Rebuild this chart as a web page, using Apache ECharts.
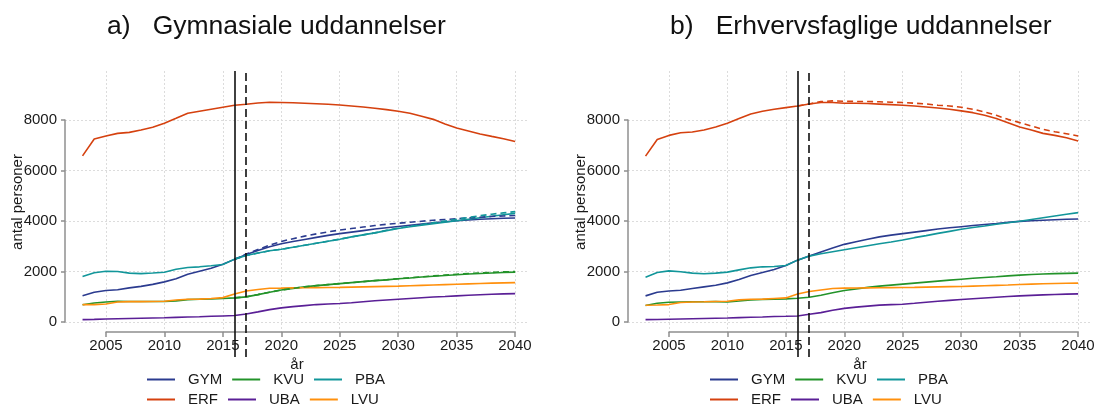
<!DOCTYPE html>
<html>
<head>
<meta charset="utf-8">
<script src="https://cdn.jsdelivr.net/npm/echarts@6/dist/echarts.min.js"></script>
<style>
html, body { margin: 0; padding: 0; background: #fff; }
#main { width: 1098px; height: 405px; }
</style>
</head>
<body>
<div id="main"></div>
<script>
// years on the x axis
var years = [2003, 2004, 2005, 2006, 2007, 2008, 2009, 2010, 2011, 2012, 2013, 2014, 2015, 2016, 2017, 2018, 2019, 2020, 2021,
    2022, 2023, 2024, 2025, 2026, 2027, 2028, 2029, 2030, 2031, 2032, 2033, 2034, 2035, 2036, 2037, 2038, 2039, 2040];
var altYears = [2016, 2017, 2018, 2019, 2020, 2021, 2022, 2023, 2024, 2025, 2026, 2027, 2028, 2029, 2030, 2031, 2032,
    2033, 2034, 2035, 2036, 2037, 2038, 2039, 2040];
var xTicks = [2005, 2010, 2015, 2020, 2025, 2030, 2035, 2040];
var yTicks = [0, 2000, 4000, 6000, 8000];
var names = ["GYM", "ERF", "KVU", "UBA", "PBA", "LVU"];

// a) Gymnasiale uddannelser
var gymA = [1040, 1180, 1250, 1280, 1350, 1410, 1490, 1590, 1710, 1890, 2010, 2130, 2290, 2480, 2670, 2830, 2980, 3100, 3190,
    3270, 3350, 3430, 3500, 3560, 3620, 3680, 3730, 3780, 3830, 3880, 3930, 3970, 4010, 4040, 4070, 4090, 4110, 4120];
var erfA = [6580, 7245, 7365, 7470, 7510, 7600, 7710, 7870, 8065, 8265, 8345, 8425, 8505, 8585, 8625, 8675, 8700, 8690, 8680,
    8665, 8645, 8625, 8595, 8555, 8515, 8465, 8410, 8345, 8265, 8145, 8025, 7840, 7680, 7565, 7445, 7350, 7260, 7150];
var kvuA = [680, 755, 790, 820, 810, 810, 810, 810, 835, 885, 900, 915, 930, 955, 995, 1085, 1180, 1270, 1330,
    1390, 1440, 1480, 1520, 1560, 1600, 1640, 1670, 1710, 1740, 1780, 1810, 1840, 1870, 1900, 1920, 1940, 1960, 1975];
var ubaA = [95, 105, 120, 130, 140, 150, 160, 170, 185, 200, 210, 225, 240, 255, 320, 400, 490, 560, 610,
    650, 690, 710, 730, 760, 800, 840, 870, 900, 930, 960, 990, 1010, 1035, 1060, 1080, 1100, 1115, 1125];
var pbaA = [1800, 1950, 2010, 2000, 1935, 1915, 1940, 1970, 2090, 2160, 2185, 2225, 2275, 2490, 2630, 2730, 2820, 2880, 2960,
    3040, 3120, 3200, 3280, 3370, 3450, 3530, 3620, 3700, 3770, 3830, 3890, 3950, 4010, 4070, 4130, 4190, 4250, 4300];
var lvuA = [690, 690, 710, 790, 805, 805, 810, 820, 870, 900, 905, 930, 965, 1110, 1230, 1285, 1335, 1340, 1350,
    1355, 1360, 1365, 1370, 1380, 1390, 1400, 1410, 1420, 1435, 1450, 1465, 1480, 1495, 1510, 1525, 1540, 1550, 1560];
// alternative projection (dashed), from 2016
var gymAltA = [2480, 2690, 2870, 3040, 3190, 3300, 3400, 3490, 3570, 3640, 3700, 3760, 3820, 3870, 3910, 3950, 3990,
    4030, 4060, 4090, 4120, 4150, 4180, 4200, 4220];
var pbaAltA = [2490, 2630, 2730, 2820, 2880, 2960, 3040, 3120, 3200, 3280, 3370, 3450, 3530, 3630, 3720, 3790, 3860,
    3930, 4000, 4070, 4140, 4210, 4270, 4320, 4370];
var kvuAltA = [955, 995, 1085, 1180, 1270, 1330, 1390, 1440, 1480, 1520, 1560, 1600, 1640, 1675, 1715, 1750, 1790,
    1825, 1860, 1890, 1920, 1945, 1965, 1985, 2000];

// b) Erhvervsfaglige uddannelser
var gymB = [1035, 1180, 1230, 1260, 1325, 1390, 1455, 1550, 1685, 1840, 1960, 2080, 2240, 2450, 2610, 2770, 2930, 3075, 3180,
    3280, 3370, 3440, 3500, 3560, 3620, 3680, 3730, 3775, 3820, 3860, 3900, 3945, 3985, 4010, 4030, 4050, 4070, 4080];
var erfB = [6570, 7230, 7390, 7495, 7525, 7605, 7720, 7870, 8055, 8240, 8345, 8425, 8490, 8555, 8635, 8690, 8690, 8665, 8660,
    8650, 8630, 8610, 8585, 8555, 8515, 8475, 8425, 8360, 8290, 8185, 8055, 7895, 7720, 7605, 7470, 7390, 7300, 7165];
var kvuB = [650, 740, 780, 790, 800, 800, 805, 795, 830, 875, 890, 900, 915, 940, 980, 1060, 1155, 1245, 1310,
    1370, 1420, 1460, 1500, 1540, 1580, 1620, 1660, 1695, 1730, 1760, 1790, 1825, 1855, 1880, 1900, 1915, 1925, 1935];
var ubaB = [93, 100, 110, 120, 130, 140, 150, 160, 175, 190, 200, 215, 225, 240, 305, 370, 465, 540, 590,
    630, 670, 690, 705, 740, 780, 820, 855, 890, 920, 950, 980, 1010, 1035, 1055, 1075, 1090, 1105, 1115];
var pbaB = [1775, 1960, 2025, 1990, 1935, 1910, 1935, 1975, 2065, 2145, 2185, 2200, 2240, 2450, 2610, 2700, 2780, 2860, 2940,
    3020, 3100, 3170, 3250, 3340, 3420, 3510, 3590, 3670, 3740, 3800, 3870, 3930, 3990, 4060, 4130, 4200, 4270, 4330];
var lvuB = [665, 675, 690, 770, 795, 800, 810, 820, 875, 900, 905, 930, 955, 1110, 1205, 1270, 1325, 1340, 1345,
    1350, 1355, 1360, 1365, 1370, 1380, 1390, 1400, 1405, 1420, 1435, 1450, 1465, 1485, 1500, 1515, 1525, 1535, 1540];
var erfAltB = [8555, 8635, 8730, 8755, 8740, 8735, 8730, 8720, 8705, 8690, 8665, 8635, 8585, 8555, 8505, 8425, 8320,
    8185, 8025, 7895, 7760, 7630, 7535, 7455, 7365];

var colors = {GYM: "#2b3b8f", ERF: "#d5410f", KVU: "#23932a", UBA: "#5a1f96", PBA: "#12969a", LVU: "#ff900d"};
var font = "'Liberation Sans', Arial, sans-serif";
var gridColor = "#dcdcdc";
var axisColor = "#8f8f8f";

function pairs(xs, ys) {
    var out = [];
    for (var i = 0; i < xs.length; i++) out.push([xs[i], ys[i]]);
    return out;
}

// plain numbers, no thousands separator
function plain(v) {
    return String(v);
}

var option = {
    animation: false,
    textStyle: {fontFamily: font},
    title: [],
    grid: [],
    xAxis: [],
    yAxis: [],
    legend: [],
    series: [],
    graphic: []
};

function addPanel(p, dx, titleText, solid, dashed) {
    var g = p * 3;
    option.title.push({
        text: titleText, left: 107 + dx, top: 13, padding: 0,
        textStyle: {fontSize: 26.5, fontWeight: "normal", color: "#111", fontFamily: font}
    });
    // main plot grid, holds the lines
    option.grid.push({left: 65 + dx, top: 71, width: 463, height: 286});
    // x tick grid: spans 2005..2040
    option.grid.push({left: 106 + dx, top: 71, width: 409, height: 261});
    // y tick grid: spans 0..8000
    option.grid.push({left: 65 + dx, top: 120, width: 463, height: 202});

    option.xAxis.push({gridIndex: g, type: "value", min: 2001.5, max: 2041.1, show: false});
    option.yAxis.push({gridIndex: g, type: "value", min: -1386, max: 9940, show: false});

    option.xAxis.push({
        gridIndex: g + 1, type: "value", min: xTicks[0], max: xTicks[xTicks.length - 1], interval: 5,
        axisLine: {show: true, lineStyle: {color: axisColor, width: 1.5}},
        axisTick: {show: true, length: 5, lineStyle: {color: axisColor, width: 1.5}},
        axisLabel: {fontSize: 15, color: "#1a1a1a", margin: 6, fontFamily: font, formatter: plain},
        splitLine: {show: true, lineStyle: {color: gridColor, type: [2, 2], width: 1}}
    });
    option.yAxis.push({gridIndex: g + 1, type: "value", min: 0, max: 1, show: false});

    option.xAxis.push({gridIndex: g + 2, type: "value", min: 0, max: 1, show: false});
    option.yAxis.push({
        gridIndex: g + 2, type: "value", min: yTicks[0], max: yTicks[yTicks.length - 1], interval: 2000,
        axisLine: {show: true, lineStyle: {color: axisColor, width: 1.5}},
        axisTick: {show: true, length: 4, lineStyle: {color: axisColor, width: 1.5}},
        axisLabel: {fontSize: 15, color: "#1a1a1a", margin: 8, fontFamily: font, formatter: plain},
        splitLine: {show: true, lineStyle: {color: gridColor, type: [2, 2], width: 1}}
    });

    option.graphic.push({
        type: "text", x: 18 + dx, y: 202, rotation: Math.PI / 2,
        style: {text: "antal personer", fontSize: 15, fill: "#1a1a1a", align: "center", verticalAlign: "middle", fontFamily: font}
    });
    option.graphic.push({
        type: "text", x: 297 + dx, y: 365,
        style: {text: "år", fontSize: 15, fill: "#1a1a1a", align: "center", verticalAlign: "middle", fontFamily: font}
    });

    var rows = [["GYM", "KVU", "PBA"], ["ERF", "UBA", "LVU"]];
    for (var r = 0; r < rows.length; r++) {
        option.legend.push({
            data: rows[r], left: 147 + dx, top: 372 + r * 20, orient: "horizontal",
            icon: "rect", itemWidth: 28, itemHeight: 2, itemGap: 10, padding: 0,
            textStyle: {fontSize: 15, color: "#1a1a1a", width: 42, padding: [0, 0, 0, 8], fontFamily: font}
        });
    }

    names.forEach(function (n) {
        option.series.push({
            name: n, type: "line", xAxisIndex: g, yAxisIndex: g, symbol: "none",
            data: pairs(years, solid[n]), lineStyle: {color: colors[n], width: 1.6}, itemStyle: {color: colors[n]},
            z: 3
        });
    });
    Object.keys(dashed).forEach(function (n) {
        option.series.push({
            name: n + " alt", type: "line", xAxisIndex: g, yAxisIndex: g, symbol: "none",
            data: pairs(altYears, dashed[n]), lineStyle: {color: colors[n], width: 1.6, type: [6, 4]},
            itemStyle: {color: colors[n]}, z: 3
        });
    });
    // vertical reference lines at 2016 (solid) and 2017 (dashed)
    option.series.push({
        name: "ref", type: "line", xAxisIndex: g, yAxisIndex: g, data: [], symbol: "none", z: 4,
        markLine: {
            silent: true, symbol: "none", label: {show: false},
            data: [
                {xAxis: 2016, lineStyle: {color: "#111", width: 1.6, type: "solid"}},
                {xAxis: 2017, lineStyle: {color: "#111", width: 1.6, type: [8, 4]}}
            ]
        }
    });
}

addPanel(0, 0, "a)   Gymnasiale uddannelser",
    {GYM: gymA, ERF: erfA, KVU: kvuA, UBA: ubaA, PBA: pbaA, LVU: lvuA},
    {GYM: gymAltA, PBA: pbaAltA, KVU: kvuAltA});
addPanel(1, 563, "b)   Erhvervsfaglige uddannelser",
    {GYM: gymB, ERF: erfB, KVU: kvuB, UBA: ubaB, PBA: pbaB, LVU: lvuB},
    {ERF: erfAltB});

var myChart = echarts.init(document.getElementById("main"));
myChart.setOption(option);
</script>
</body>
</html>
